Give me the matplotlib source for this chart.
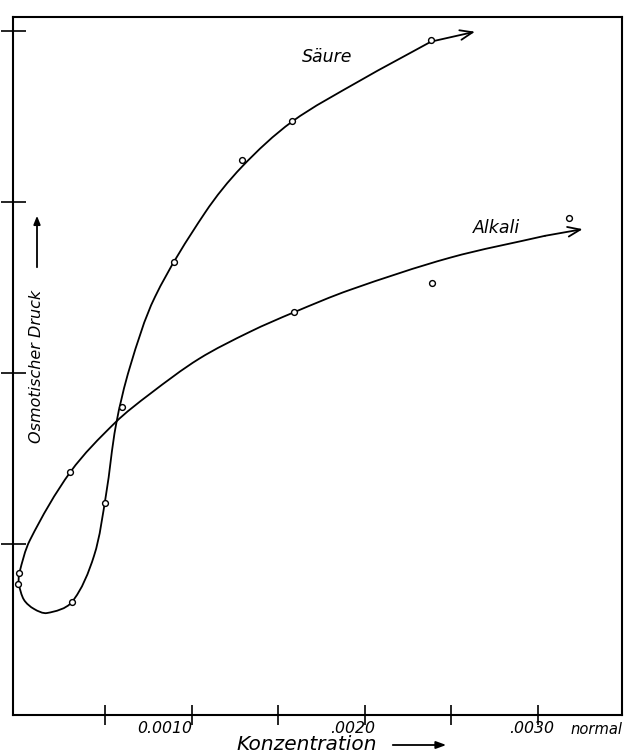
import matplotlib
matplotlib.use("Agg")
import matplotlib.pyplot as plt
import matplotlib.transforms as mtransforms
from matplotlib.path import Path
from matplotlib.patches import PathPatch, FancyArrowPatch

# ---- data (concentration in normal, osmotic pressure in arbitrary units) ----
saeure_x = [0.00000, 0.00031, 0.00050, 0.00060, 0.00090, 0.00129, 0.00158, 0.00238]
saeure_y = [0.766, 0.659, 1.238, 1.799, 2.647, 3.246, 3.475, 3.943]

alkali_x = [0.000005, 0.00030, 0.00159, 0.00239, 0.00318]
alkali_y = [0.829, 1.423, 2.353, 2.525, 2.908]

# hand-drawn curves
saeure_curve_x = [0.0000000, 0.0000323, 0.0000901, 0.0001651, 0.0003077, 0.0004365,
                  0.0005058, 0.0005635, 0.0006443, 0.0007887, 0.0010774, 0.0012910,
                  0.0015797, 0.0019723, 0.0023822, 0.0026363]
saeure_curve_y = [0.766, 0.673, 0.620, 0.596, 0.659, 0.930,
                  1.287, 1.696, 2.035, 2.444, 2.936, 3.205,
                  3.468, 3.708, 3.936, 3.994]

alkali_curve_x = [0.0000000, 0.0000052, 0.0000670, 0.0003020, 0.0005577, 0.0007598,
                  0.0010427, 0.0013372, 0.0015889, 0.0019146, 0.0024919, 0.0030404,
                  0.0032581]
alkali_curve_y = [0.766, 0.829, 1.023, 1.423, 1.708, 1.877,
                  2.082, 2.240, 2.353, 2.485, 2.673, 2.801,
                  2.840]

x_major = [0.001, 0.002, 0.003]
x_major_labels = ["0.0010", ".0020", ".0030"]
x_minor = [0.0005, 0.0015, 0.0025]
y_ticks = [1, 2, 3, 4]


def smooth_path(ax, xs, ys):
    """Cubic Bezier path through the traced points, with chord-length
    weighted tangents computed in display space, returned in data space."""
    pts = ax.transData.transform(list(zip(xs, ys)))
    n = len(pts)
    d = [((pts[i + 1][0] - pts[i][0]) ** 2 + (pts[i + 1][1] - pts[i][1]) ** 2) ** 0.5
         for i in range(n - 1)]
    tang = []
    for i in range(n):
        if i == 0:
            t = (pts[1] - pts[0]) / d[0]
        elif i == n - 1:
            t = (pts[-1] - pts[-2]) / d[-1]
        else:
            t = (pts[i + 1] - pts[i - 1]) / (d[i - 1] + d[i])
        tang.append(t)
    verts = [pts[0]]
    codes = [Path.MOVETO]
    for i in range(n - 1):
        c1 = pts[i] + tang[i] * d[i] / 3
        c2 = pts[i + 1] - tang[i + 1] * d[i] / 3
        verts += [c1, c2, pts[i + 1]]
        codes += [Path.CURVE4] * 3
    verts = ax.transData.inverted().transform(verts)
    return Path(verts, codes)


# ---- figure ----
W, H = 624, 754
fig = plt.figure(figsize=(W / 100, H / 100), dpi=100)
ax = fig.add_axes([13 / W, (H - 715) / H, (622 - 13) / W, (715 - 17) / H])
ax.set_xlim(-0.0000312, 0.003485)
ax.set_ylim(0, 4.08)

fam = ["DejaVu Sans"]
lw = 1.3

# curves (without final arrow segment), then arrows at the ends
for cx, cy in ((saeure_curve_x, saeure_curve_y), (alkali_curve_x, alkali_curve_y)):
    ax.add_patch(PathPatch(smooth_path(ax, cx[:-1], cy[:-1]), facecolor="none",
                           edgecolor="black", lw=lw, capstyle="round", zorder=2))
    ax.annotate("", xy=(cx[-1], cy[-1]), xytext=(cx[-2], cy[-2]),
                arrowprops=dict(arrowstyle="->,head_length=0.9,head_width=0.35",
                                lw=lw, color="black", shrinkA=0, shrinkB=0), zorder=2)

# data points (open circles)
ax.plot(saeure_x, saeure_y, "o", ms=4.2, mfc="white", mec="black", mew=1.0, zorder=3)
ax.plot(alkali_x, alkali_y, "o", ms=4.2, mfc="white", mec="black", mew=1.0, zorder=3)

# curve labels
ax.text(0.001782, 3.848, "Säure", fontsize=12.5, style="italic", family=fam,
        ha="center", va="center")
ax.text(0.002763, 2.848, "Alkali", fontsize=12.5, style="italic", family=fam,
        ha="center", va="center")

# spines
for s in ax.spines.values():
    s.set_linewidth(1.5)

# ticks
ax.set_xticks(x_major)
ax.set_xticklabels(x_major_labels)
ax.set_xticks(x_minor, minor=True)
ax.set_yticks(y_ticks)
ax.set_yticklabels([])
ax.tick_params(axis="both", which="both", direction="inout", width=1.2, colors="black")
ax.tick_params(axis="x", which="both", length=14, pad=-3, labelsize=11.3)
ax.tick_params(axis="y", which="both", length=18)
ax.tick_params(top=False, right=False)

offsets = [-27, -12, -6]
for lab, off in zip(ax.get_xticklabels(), offsets):
    lab.set_fontstyle("italic")
    lab.set_family(fam)
    lab.set_transform(lab.get_transform() +
                      mtransforms.ScaledTranslation(off / 100, 0, fig.dpi_scale_trans))

# "normal" unit label
fig.text(596 / W, 1 - 729 / H, "normal", fontsize=10.6, style="italic", family=fam,
         ha="center", va="center")

# y label with arrow
ax.text(24 / 609, 0.5, "Osmotischer Druck", rotation=90, fontsize=11.5, style="italic",
        family=fam, ha="center", va="center", transform=ax.transAxes)
fig.add_artist(FancyArrowPatch(
    (37 / W, 1 - 270 / H), (37 / W, 1 - 213 / H), transform=fig.transFigure,
    arrowstyle="-|>,head_length=5,head_width=2", lw=1.3, color="black"))

# x label with arrow
fig.text(307 / W, 1 - 745 / H, "Konzentration", fontsize=14.5, style="italic", family=fam,
         ha="center", va="center")
fig.add_artist(FancyArrowPatch(
    (390 / W, 1 - 745 / H), (449 / W, 1 - 745 / H), transform=fig.transFigure,
    arrowstyle="-|>,head_length=6,head_width=2.2", lw=1.3, color="black"))

fig.savefig("out.png", dpi=100, facecolor="white")
